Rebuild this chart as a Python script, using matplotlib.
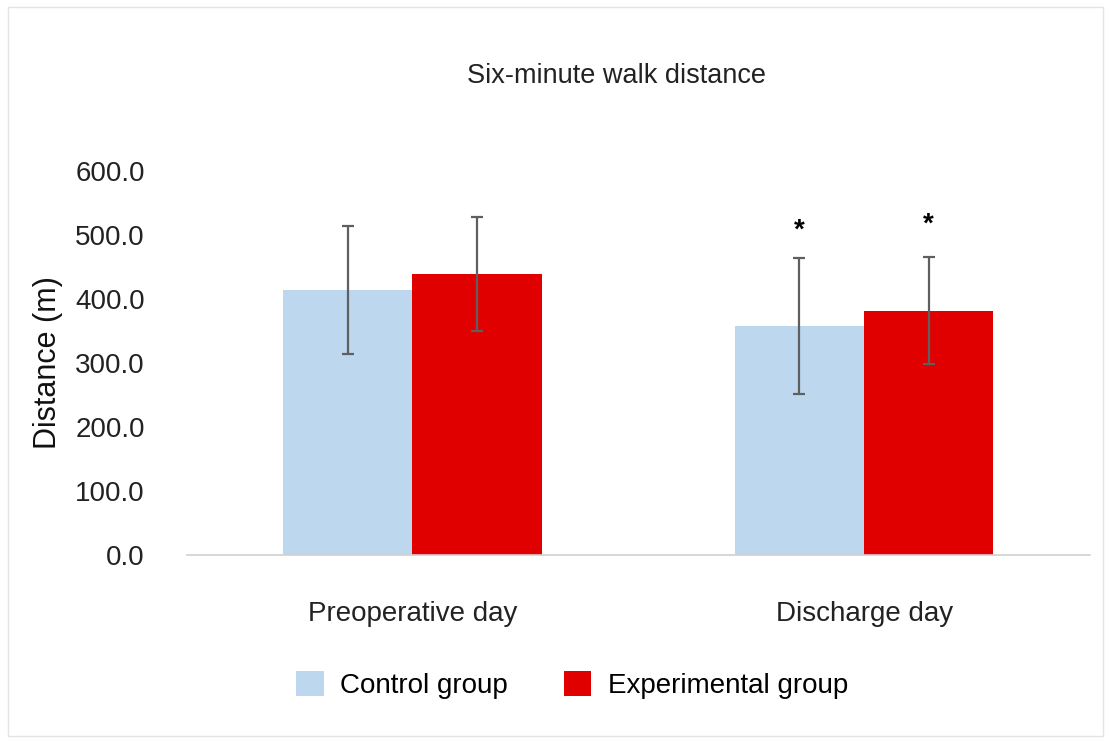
import numpy as np
import matplotlib.pyplot as plt
from matplotlib.patches import Rectangle

# --- data ---
categories = ["Preoperative day", "Discharge day"]
control_mean = [414, 358]
control_err = [100, 106]
exper_mean = [439, 382]
exper_err = [89, 84]
star_control = ["", "*"]
star_exper = ["", "*"]

plt.rcParams['font.family'] = ['Liberation Sans', 'DejaVu Sans']

fig = plt.figure(figsize=(11.11, 7.42), dpi=100)
ax = fig.add_axes([0.168, 0.252, 0.813, 0.5175])

x = np.arange(len(categories))
w = 0.286
ekw = dict(ecolor="#5f5f5f", elinewidth=1.6, capsize=4.5, capthick=1.6)

ax.bar(x - w / 2, control_mean, w, yerr=control_err, color="#bdd7ee",
       label="Control group", error_kw=ekw)
ax.bar(x + w / 2, exper_mean, w, yerr=exper_err, color="#e00000",
       label="Experimental group", error_kw=ekw)

# --- significance marks ---
for i in range(len(categories)):
    if star_control[i]:
        ax.text(x[i] - w / 2, control_mean[i] + control_err[i] + 22, star_control[i],
                ha="center", va="bottom", fontsize=20, fontweight="bold")
    if star_exper[i]:
        ax.text(x[i] + w / 2, exper_mean[i] + exper_err[i] + 30, star_exper[i],
                ha="center", va="bottom", fontsize=20, fontweight="bold")

# --- axes ---
ax.set_xlim(-0.5, 1.5)
ax.set_ylim(0, 600)
ax.set_yticks(np.arange(0, 601, 100))
ax.set_yticklabels([f"{v:.1f}" for v in np.arange(0, 601, 100)], fontsize=20, color="#222222")
ax.set_xticks(x)
ax.set_xticklabels(categories, fontsize=20, color="#222222")
ax.tick_params(axis="y", length=0, pad=30)
ax.tick_params(axis="x", length=0, pad=33)
for s in ["top", "right", "left"]:
    ax.spines[s].set_visible(False)
ax.spines["bottom"].set_color("#d0d0d0")
ax.spines["bottom"].set_linewidth(1.2)

ax.set_ylabel("Distance (m)", fontsize=22, color="#111111", labelpad=9)
fig.text(0.555, 0.898, "Six-minute walk distance", ha="center", va="center",
         fontsize=19.5, color="#222222")

fig.legend(loc="center", bbox_to_anchor=(0.515, 0.077), ncol=2, frameon=False,
           fontsize=20, handlelength=1.0, handleheight=1.0, columnspacing=2.0,
           handletextpad=0.6)

# --- chart border ---
fig.patches.append(Rectangle((0.007, 0.008), 0.986, 0.982, transform=fig.transFigure,
                             fill=False, edgecolor="#e4e4e4", linewidth=1))

fig.savefig("out.png", dpi=100)
